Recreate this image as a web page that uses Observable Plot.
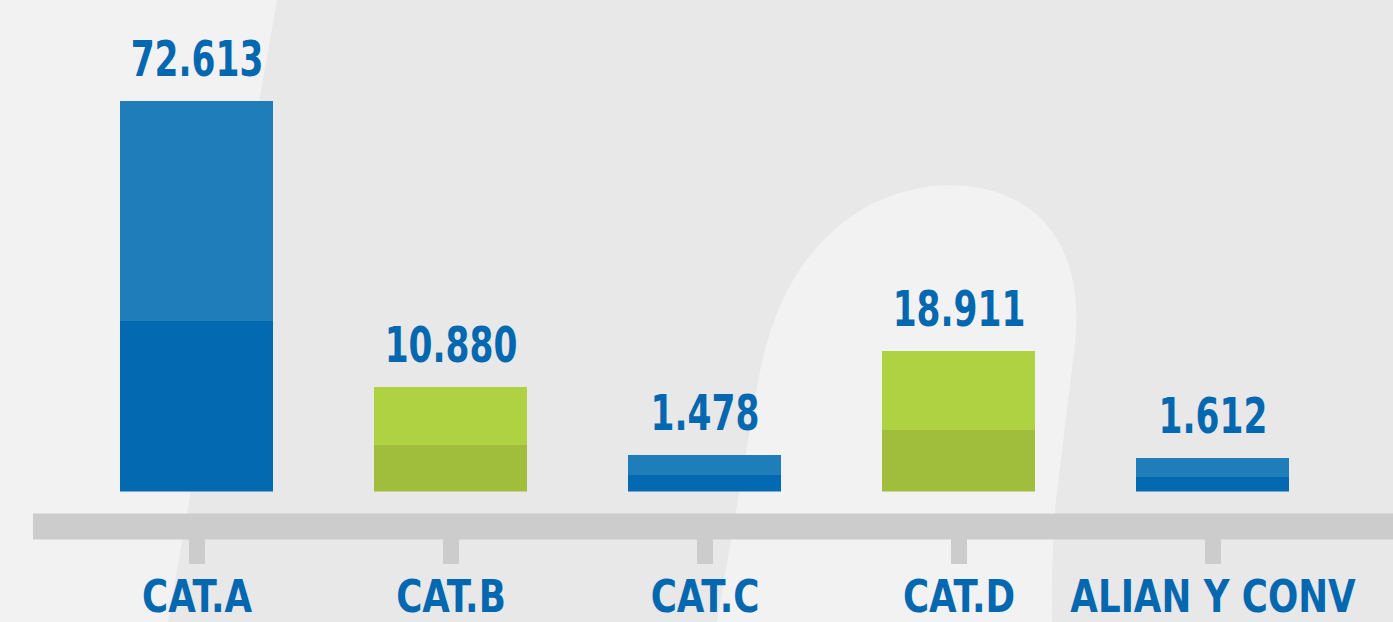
<!DOCTYPE html>
<html>
<head>
<meta charset="utf-8">
<script src="https://cdn.jsdelivr.net/npm/d3@7"></script>
<script src="https://cdn.jsdelivr.net/npm/@observablehq/plot@0.6"></script>
<style>
  html, body { margin: 0; padding: 0; background: #f2f2f2; overflow: hidden; }
  #chart svg { display: block; }
</style>
</head>
<body>
<div id="chart"></div>
<script>
// ---- data ----
const categories = ["CAT.A", "CAT.B", "CAT.C", "CAT.D", "ALIAN Y CONV"];
const values = [72613, 10880, 1478, 18911, 1612];              // printed labels
const groups = ["azul", "verde", "azul", "verde", "azul"];       // bar colour family
const barLength = [390.5, 104.5, 36.5, 140.5, 33.5];             // drawn bar length (picture units)
const lowerLength = [170.5, 46.5, 16.5, 61.5, 14.5];             // darker lower segment length

const palette = {
  azul:  { lower: "#0369b0", upper: "#1f7dba" },
  verde: { lower: "#a0bd3b", upper: "#afd243" }
};
const textColor = "#0368b0";
const fmt = d3.formatLocale({ decimal: ",", thousands: ".", grouping: [3], currency: ["", "€"] }).format(",");

const rows = [];
categories.forEach((c, i) => {
  rows.push({ cat: c, y1: 0, y2: lowerLength[i], color: palette[groups[i]].lower });
  rows.push({ cat: c, y1: lowerLength[i], y2: barLength[i], color: palette[groups[i]].upper });
});
const tops = categories.map((c, i) => ({ cat: c, total: barLength[i], label: fmt(values[i]) }));

const fontFamily = "'DejaVu Sans Condensed', 'DejaVu Sans', sans-serif";

// decorative background (not data)
function backdrop() {
  const g = d3.create("svg:g");
  g.append("rect").attr("x", 0).attr("y", 0).attr("width", 1393).attr("height", 622).attr("fill", "#e8e8e8");
  g.append("path").attr("d", "M0,0 L277,0 L168,622 L0,622 Z").attr("fill", "#f2f2f2");
  g.append("path")
    .attr("d", "M717,622 L755,400 C768,310 800,245 868,206 C920,178 992,176 1036,214 C1074,248 1082,300 1073,360 L1056,500 C1051,560 1052,600 1052,622 Z")
    .attr("fill", "#f2f2f2");
  return g.node();
}

const chart = Plot.plot({
  width: 1393,
  height: 622,
  marginTop: 101,
  marginBottom: 130.5,
  marginLeft: 69,
  marginRight: 53,
  style: { background: "transparent", fontFamily, overflow: "visible" },
  x: { domain: categories, paddingInner: 0.398, paddingOuter: 0.199, axis: null },
  y: { domain: [0, 390.5], axis: null },
  color: { type: "identity" },
  marks: [
    backdrop,
    Plot.ruleY([0], { stroke: "#cccccc", strokeWidth: 26, dy: 34.5, insetLeft: -36, insetRight: -53 }),
    Plot.ruleX(categories, { x: d => d, y1: () => 0, y2: () => 0, stroke: "#cccccc", strokeWidth: 16, insetTop: 47.5, insetBottom: -72.5 }),
    Plot.barY(rows, { x: "cat", y1: "y1", y2: "y2", fill: "color" }),
    Plot.text(tops, { x: "cat", y: "total", text: "label", dy: -26, lineAnchor: "bottom",
      fill: textColor, fontSize: 49, fontWeight: "bold", fontFamily }),
    Plot.text(categories, { x: d => d, text: d => d, frameAnchor: "bottom", dy: 119.5, lineAnchor: "bottom",
      fill: textColor, fontSize: 45, fontWeight: "bold", fontFamily })
  ]
});
document.getElementById("chart").appendChild(chart);

// narrow the condensed face further to match the reference's DIN-like lettering
const textGroups = d3.select(chart).selectAll('g[aria-label="text"]').nodes();
const squeeze = [0.78, 0.88];
textGroups.forEach((g, k) => {
  d3.select(g).selectAll("text").each(function () {
    const w = this.getComputedTextLength();
    this.setAttribute("textLength", (w * squeeze[k]).toFixed(1));
    this.setAttribute("lengthAdjust", "spacingAndGlyphs");
  });
});
</script>
</body>
</html>
